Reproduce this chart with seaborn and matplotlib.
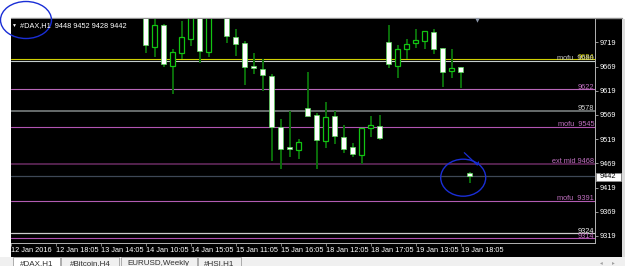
import numpy as np
import pandas as pd
import matplotlib
matplotlib.use("Agg")
import matplotlib.pyplot as plt
import matplotlib.transforms as mtransforms
from matplotlib.patches import Rectangle, Ellipse
import seaborn as sns

# ---------------- data ----------------
opens = [9785, 9710.0, 9754.3, 9670.8, 9696.4, 9726.6, 9778, 9699.1, 9776, 9778,
         9729.5, 9717.7, 9669.5, 9663.3, 9648.9, 9544.1, 9502.1, 9497.1, 9582.7, 9568.9,
         9515.8, 9566.2, 9524.0, 9502.1, 9485.6, 9542.6, 9545.5, 9719.1, 9670.8, 9704.7,
         9717.1, 9721.2, 9739.8, 9706.7, 9659.2, 9667.5, 9448]
highs = [9795, 9772, 9757, 9704.7, 9763.2, 9782, 9785, 9780, 9790, 9786,
         9746.6, 9721.2, 9696.4, 9684.6, 9653.6, 9560.6, 9577.1, 9519.3, 9657.8, 9573.0,
         9595.7, 9577.1, 9547.6, 9511.0, 9542.0, 9566.8, 9568.9, 9755.5, 9712.9, 9725.3,
         9746.0, 9742.5, 9746.0, 9707.5, 9704.7, 9668.0, 9452]
lows = [9697.6, 9688.1, 9668.7, 9612.3, 9684.0, 9711.5, 9677.0, 9689.4, 9770, 9718.3,
        9691.4, 9630.9, 9654.2, 9619.1, 9473.8, 9457.3, 9482.7, 9478.5, 9566.8, 9457.3,
        9501.3, 9509.6, 9491.0, 9482.7, 9468.2, 9524.0, 9517.8, 9665.4, 9646.0, 9684.0,
        9706.7, 9704.7, 9695.6, 9626.7, 9646.0, 9624.7, 9428]
closes = [9712.9, 9755.5, 9674.3, 9699.7, 9729.5, 9775, 9701.8, 9774, 9783, 9732.2,
          9715.6, 9668.1, 9665.4, 9651.6, 9544.7, 9499.2, 9499.5, 9513.7, 9567.4, 9517.8,
          9564.1, 9524.8, 9499.2, 9487.6, 9541.4, 9547.6, 9521.3, 9673.7, 9704.7, 9715.0,
          9723.3, 9741.9, 9704.7, 9657.1, 9665.4, 9657.1, 9442]

time_ticks = [-15, -10, -5, 0, 5, 10, 15, 20, 25, 30, 35]
time_labels = ["12 Jan 2016", "12 Jan 18:05", "13 Jan 14:05", "14 Jan 10:05",
               "14 Jan 15:05", "15 Jan 11:05", "15 Jan 16:05", "18 Jan 12:05",
               "18 Jan 17:05", "19 Jan 13:05", "19 Jan 18:05"]
price_ticks = [9319, 9369, 9419, 9469, 9519, 9569, 9619, 9669, 9719]

level_prices = [9684, 9680, 9622, 9578, 9545, 9468, 9391, 9324, 9314]
level_labels = ["9684", "mofu  9680", "9622", "9578", "mofu  9545",
                "ext mid 9468", "mofu  9391", "9324", "9314"]
current_price = 9442
header_symbol = "#DAX,H1"
header_ohlc = "9448 9452 9428 9442"
tab_names = ["#DAX,H1", "#Bitcoin,H4", "EURUSD,Weekly", "#HSI,H1"]

# ---------------- styles ----------------
level_line_colors = ["#CFCF00", "#C4CCCC", "#B866B8", "#6E7474", "#B254B2",
                     "#6A2C62", "#B25CB2", "#CDCDCD", "#B050B0"]
level_text_colors = ["#D8D800", "#C8C8C8", "#C070C0", "#D0D0D0", "#C070C0",
                     "#C070C0", "#C070C0", "#F0F0F0", "#C070C0"]
level_widths = [0.8, 0.8, 0.8, 1.3, 0.8, 1.1, 0.8, 0.9, 0.8]

sns.set_theme(style="dark")
plt.rcParams['font.family'] = ['Liberation Sans', 'DejaVu Sans']

W, H = 625, 266
fig = plt.figure(figsize=(W / 100, H / 100), dpi=100, facecolor="white")


def fr(x0, y0, x1, y1):
    return [x0 / W, 1 - y1 / H, (x1 - x0) / W, (y1 - y0) / H]


# background / window furniture
bg = fig.add_axes([0, 0, 1, 1], zorder=0)
bg.set_xlim(0, W)
bg.set_ylim(H, 0)
bg.axis("off")
bg.add_patch(Rectangle((10.7, 18.5), 611.3, 238, facecolor="black", edgecolor="none"))
bg.plot([10.7, 622], [18.3, 18.3], color="#909090", lw=1.0)
bg.add_patch(Rectangle((622, 18.5), 3, 238, facecolor="#DCDCDC", edgecolor="none"))
bg.add_patch(Rectangle((0, 256.5), W, 10, facecolor="#F0F0F0", edgecolor="none"))
tab_edges = [(12.7, 60), (61, 119.3), (120.7, 196.7), (197.5, 240.7)]
for i, (name, (a, b)) in enumerate(zip(tab_names, tab_edges)):
    bg.add_patch(Rectangle((a, 257.3), b - a, 10,
                           facecolor="white" if i == 0 else "#F0F0F0",
                           edgecolor="#A0A0A0", lw=0.6))
    bg.text((a + b) / 2, 260.2, name, ha="center", va="top", fontsize=5.8,
            color="#303030")
bg.text(601, 263.0, "\u25C2", fontsize=4, color="#A0A0A0", ha="center", va="center")
bg.text(613, 263.0, "\u25B8", fontsize=4, color="#A0A0A0", ha="center", va="center")

# main chart axes
ax = fig.add_axes(fr(10.7, 18.5, 595, 243), zorder=1)
ax.set_facecolor("black")
x = np.arange(len(opens))
o = np.array(opens)
c = np.array(closes)
bull = c >= o
bottoms = np.minimum(o, c)
heights = np.maximum(np.abs(c - o), 2.2)

ax.vlines(x, lows, highs, colors="#0B6E0B", linewidth=1.4, zorder=3)
ax.bar(x[bull], heights[bull], bottom=bottoms[bull], width=0.58,
       color="black", edgecolor="#12C412", linewidth=0.9, zorder=4)
ax.bar(x[~bull], heights[~bull], bottom=bottoms[~bull], width=0.58,
       color="white", edgecolor="#5AD85A", linewidth=0.5, zorder=4)

blend = mtransforms.blended_transform_factory(ax.transAxes, ax.transData)
for p, lab, lc, tc, lw in zip(level_prices, level_labels, level_line_colors,
                              level_text_colors, level_widths):
    ax.axhline(p, color=lc, lw=lw, zorder=1)
    ax.text(0.9985, p + 1.6, lab, transform=blend, ha="right", va="baseline",
            fontsize=5.3, color=tc, zorder=5)
ax.axhline(current_price, color="#3E4856", lw=0.9, zorder=1)

ax.set_xlim(-15.0, 49.92)
ax.set_ylim(9304.3, 9768.3)
ax.grid(False)
ax.yaxis.tick_right()
ax.set_yticks(price_ticks)
ax.set_yticklabels([str(v) for v in price_ticks])
ax.set_xticks(time_ticks)
ax.set_xticklabels(time_labels, ha="left")
ax.tick_params(axis="y", length=2.0, width=0.6, color="#B0B0B0", pad=1.3,
               labelcolor="white", labelsize=5.3, right=True, left=False)
ax.tick_params(axis="x", length=2.2, width=0.6, color="#909090", pad=1.0,
               labelcolor="white", labelsize=5.3, bottom=True)
for s in ["left", "top"]:
    ax.spines[s].set_visible(False)
for s in ["right", "bottom"]:
    ax.spines[s].set_color("#B4B4B4")
    ax.spines[s].set_linewidth(0.7)

# overlay: header, price box, marker, hand-drawn circles
ov = fig.add_axes([0, 0, 1, 1], zorder=10)
ov.set_facecolor("none")
ov.set_xlim(0, W)
ov.set_ylim(H, 0)
ov.axis("off")
ov.text(14.5, 25.3, "\u25BC", fontsize=3.6, color="white", ha="center", va="center")
ov.text(20.5, 25.3, header_symbol + "  " + header_ohlc, fontsize=5.3, color="white",
        ha="left", va="center")
ov.add_patch(Rectangle((596, 172.5), 24.5, 8.6, facecolor="white",
                       edgecolor="#909090", lw=0.5))
ov.text(599.5, 176.9, str(current_price), fontsize=5.3, color="black",
        ha="left", va="center")
ov.plot([477], [20.3], marker="v", markersize=3.2, color="#8C96A8", mec="none")
ov.add_patch(Ellipse((26, 20), 51, 37, fill=False, edgecolor="#1A2ED6", lw=1.0))
ov.add_patch(Ellipse((463.2, 177.7), 45, 37, fill=False, edgecolor="#1A2ED6", lw=1.0))
ov.plot([464.3, 477.3, 478.5], [152.7, 165.0, 162.0], color="#1A2ED6", lw=0.9)

fig.savefig("out.png", dpi=100, facecolor="white")
